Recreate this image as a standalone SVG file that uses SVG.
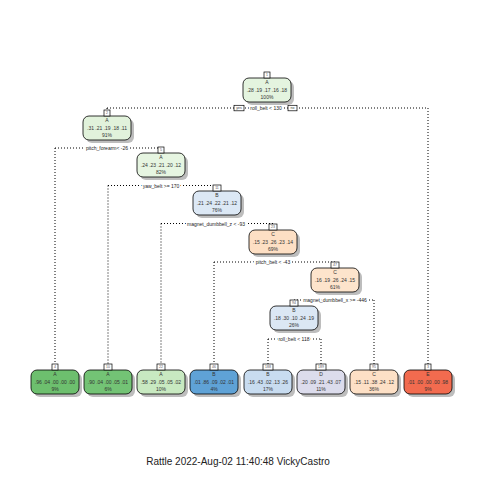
<svg xmlns="http://www.w3.org/2000/svg" width="480" height="480" viewBox="0 0 480 480">
<defs>
<style>
.bg{fill:#ffffff}
.sh{fill:#bdbdbd}
.nd{stroke:#000;stroke-width:0.8}
.nb{fill:#fff;stroke:#000;stroke-width:0.7}
.t{font-family:"Liberation Sans",Arial,sans-serif;font-size:5px;fill:#333;text-anchor:middle}
.nn{font-family:"Liberation Sans",Arial,sans-serif;font-size:3.5px;fill:#555;text-anchor:middle}
.sl{font-family:"Liberation Sans",Arial,sans-serif;font-size:5px;fill:#222;text-anchor:middle;stroke:#fff;stroke-width:3;paint-order:stroke}
.yn{font-family:"Liberation Sans",Arial,sans-serif;font-size:3.5px;fill:#333;text-anchor:middle}
.dl{stroke:#000;stroke-width:1;stroke-dasharray:1 2;fill:none}
.ft{font-family:"Liberation Sans",Arial,sans-serif;font-size:10px;fill:#222;text-anchor:middle}
</style>
</defs>
<rect class="bg" x="0" y="0" width="480" height="480"/>

<g id="connectors">
<path class="dl" d="M107,108 H428 M107,108 V110 M428,108 V364"/>
<path class="dl" d="M55,148 H161 M55,148 V364"/>
<path class="dl" d="M108,185.5 H217 M108,185.5 V364"/>
<path class="dl" d="M161,223.5 H273 M161,223.5 V364"/>
<path class="dl" d="M214,262 H335 M214,262 V364"/>
<path class="dl" d="M294,300 H374 M374,300 V364"/>
<path class="dl" d="M268,339 H321 M268,339 V364 M321,339 V364"/>
<g id="split-labels">
<rect class="nb" x="234" y="105.3" width="10" height="5.5"/>
<text class="yn" x="239" y="109.3">yes</text>
<text class="sl" x="266" y="110">roll_belt &lt; 130</text>
<rect class="nb" x="288" y="105.3" width="9" height="5.5"/>
<text class="yn" x="292.5" y="109.3">no</text>
<text class="sl" x="107" y="150">pitch_forearm&lt; -26</text>
<text class="sl" x="161" y="187.5">yaw_belt &gt;= 170</text>
<text class="sl" x="216" y="225.5">magnet_dumbbell_z &lt; -93</text>
<text class="sl" x="273" y="264">pitch_belt &lt; -43</text>
<text class="sl" x="335" y="302">magnet_dumbbell_x &gt;= -446</text>
<text class="sl" x="294" y="341">roll_belt &lt; 118</text>
</g>
</g>

<g id="n1">
<rect class="sh" x="246" y="81" width="48" height="24" rx="6"/>
<rect class="nd" x="243" y="78" width="48" height="24" rx="6" fill="#e4f4df"/>
<rect class="nb" x="264" y="72" width="6" height="6"/><text class="nn" x="267" y="76.3">1</text>
<text class="t" x="267" y="84">A</text>
<text class="t" x="267" y="91.5">.28 .19 .17 .16 .18</text>
<text class="t" x="267" y="99">100%</text>
</g>

<g id="n2">
<rect class="sh" x="86" y="119" width="48" height="24" rx="6"/>
<rect class="nd" x="83" y="116" width="48" height="24" rx="6" fill="#e1f2db"/>
<rect class="nb" x="104" y="110" width="6" height="6"/><text class="nn" x="107" y="114.3">2</text>
<text class="t" x="107" y="122">A</text>
<text class="t" x="107" y="129.5">.31 .21 .19 .18 .11</text>
<text class="t" x="107" y="137">91%</text>
</g>

<g id="n5">
<rect class="sh" x="140" y="156" width="48" height="24" rx="6"/>
<rect class="nd" x="137" y="153" width="48" height="24" rx="6" fill="#e6f5e1"/>
<rect class="nb" x="158" y="147" width="6" height="6"/><text class="nn" x="161" y="151.3">5</text>
<text class="t" x="161" y="159">A</text>
<text class="t" x="161" y="166.5">.24 .23 .21 .20 .12</text>
<text class="t" x="161" y="174">82%</text>
</g>

<g id="n11">
<rect class="sh" x="196" y="194" width="48" height="24" rx="6"/>
<rect class="nd" x="193" y="191" width="48" height="24" rx="6" fill="#dce8f5"/>
<rect class="nb" x="213" y="185" width="8" height="6"/><text class="nn" x="217" y="189.3">11</text>
<text class="t" x="217" y="197">B</text>
<text class="t" x="217" y="204.5">.21 .24 .22 .21 .12</text>
<text class="t" x="217" y="212">76%</text>
</g>

<g id="n23">
<rect class="sh" x="252" y="233" width="48" height="24" rx="6"/>
<rect class="nd" x="249" y="230" width="48" height="24" rx="6" fill="#fddfc4"/>
<rect class="nb" x="269" y="224" width="8" height="6"/><text class="nn" x="273" y="228.3">23</text>
<text class="t" x="273" y="236">C</text>
<text class="t" x="273" y="243.5">.15 .23 .26 .23 .14</text>
<text class="t" x="273" y="251">69%</text>
</g>

<g id="n47">
<rect class="sh" x="314" y="271" width="48" height="24" rx="6"/>
<rect class="nd" x="311" y="268" width="48" height="24" rx="6" fill="#fde4cc"/>
<rect class="nb" x="331" y="262" width="8" height="6"/><text class="nn" x="335" y="266.3">47</text>
<text class="t" x="335" y="274">C</text>
<text class="t" x="335" y="281.5">.16 .19 .26 .24 .15</text>
<text class="t" x="335" y="289">61%</text>
</g>

<g id="n94">
<rect class="sh" x="273" y="309" width="48" height="24" rx="6"/>
<rect class="nd" x="270" y="306" width="48" height="24" rx="6" fill="#dbe7f4"/>
<rect class="nb" x="290" y="300" width="8" height="6"/><text class="nn" x="294" y="304.3">94</text>
<text class="t" x="294" y="312">B</text>
<text class="t" x="294" y="319.5">.18 .30 .10 .24 .19</text>
<text class="t" x="294" y="327">26%</text>
</g>

<g id="n4">
<rect class="sh" x="34" y="373" width="48" height="24" rx="6"/>
<rect class="nd" x="31" y="370" width="48" height="24" rx="6" fill="#6dbf6e"/>
<rect class="nb" x="52" y="364" width="6" height="6"/><text class="nn" x="55" y="368.3">4</text>
<text class="t" x="55" y="376">A</text>
<text class="t" x="55" y="383.5">.96 .04 .00 .00 .00</text>
<text class="t" x="55" y="391">9%</text>
</g>

<g id="n10">
<rect class="sh" x="87" y="373" width="48" height="24" rx="6"/>
<rect class="nd" x="84" y="370" width="48" height="24" rx="6" fill="#73c375"/>
<rect class="nb" x="104" y="364" width="8" height="6"/><text class="nn" x="108" y="368.3">10</text>
<text class="t" x="108" y="376">A</text>
<text class="t" x="108" y="383.5">.90 .04 .00 .05 .01</text>
<text class="t" x="108" y="391">6%</text>
</g>

<g id="n22">
<rect class="sh" x="140" y="373" width="48" height="24" rx="6"/>
<rect class="nd" x="137" y="370" width="48" height="24" rx="6" fill="#c8e9c1"/>
<rect class="nb" x="157" y="364" width="8" height="6"/><text class="nn" x="161" y="368.3">22</text>
<text class="t" x="161" y="376">A</text>
<text class="t" x="161" y="383.5">.58 .29 .05 .05 .02</text>
<text class="t" x="161" y="391">10%</text>
</g>

<g id="n46">
<rect class="sh" x="193" y="373" width="48" height="24" rx="6"/>
<rect class="nd" x="190" y="370" width="48" height="24" rx="6" fill="#5fa2d6"/>
<rect class="nb" x="210" y="364" width="8" height="6"/><text class="nn" x="214" y="368.3">46</text>
<text class="t" x="214" y="376">B</text>
<text class="t" x="214" y="383.5">.01 .86 .09 .02 .01</text>
<text class="t" x="214" y="391">4%</text>
</g>

<g id="n188">
<rect class="sh" x="247" y="373" width="48" height="24" rx="6"/>
<rect class="nd" x="244" y="370" width="48" height="24" rx="6" fill="#c8dcf0"/>
<rect class="nb" x="263" y="364" width="10" height="6"/><text class="nn" x="268" y="368.3">188</text>
<text class="t" x="268" y="376">B</text>
<text class="t" x="268" y="383.5">.16 .43 .02 .13 .26</text>
<text class="t" x="268" y="391">17%</text>
</g>

<g id="n189">
<rect class="sh" x="300" y="373" width="48" height="24" rx="6"/>
<rect class="nd" x="297" y="370" width="48" height="24" rx="6" fill="#dcdcec"/>
<rect class="nb" x="316" y="364" width="10" height="6"/><text class="nn" x="321" y="368.3">189</text>
<text class="t" x="321" y="376">D</text>
<text class="t" x="321" y="383.5">.20 .09 .21 .43 .07</text>
<text class="t" x="321" y="391">11%</text>
</g>

<g id="n95">
<rect class="sh" x="353" y="373" width="48" height="24" rx="6"/>
<rect class="nd" x="350" y="370" width="48" height="24" rx="6" fill="#fde0c6"/>
<rect class="nb" x="370" y="364" width="8" height="6"/><text class="nn" x="374" y="368.3">95</text>
<text class="t" x="374" y="376">C</text>
<text class="t" x="374" y="383.5">.15 .11 .38 .24 .12</text>
<text class="t" x="374" y="391">36%</text>
</g>

<g id="n3">
<rect class="sh" x="407" y="373" width="48" height="24" rx="6"/>
<rect class="nd" x="404" y="370" width="48" height="24" rx="6" fill="#f26b4f"/>
<rect class="nb" x="425" y="364" width="6" height="6"/><text class="nn" x="428" y="368.3">3</text>
<text class="t" x="428" y="376">E</text>
<text class="t" x="428" y="383.5">.01 .00 .00 .00 .98</text>
<text class="t" x="428" y="391">9%</text>
</g>

<text class="ft" x="238" y="465">Rattle 2022-Aug-02 11:40:48 VickyCastro</text>
</svg>
